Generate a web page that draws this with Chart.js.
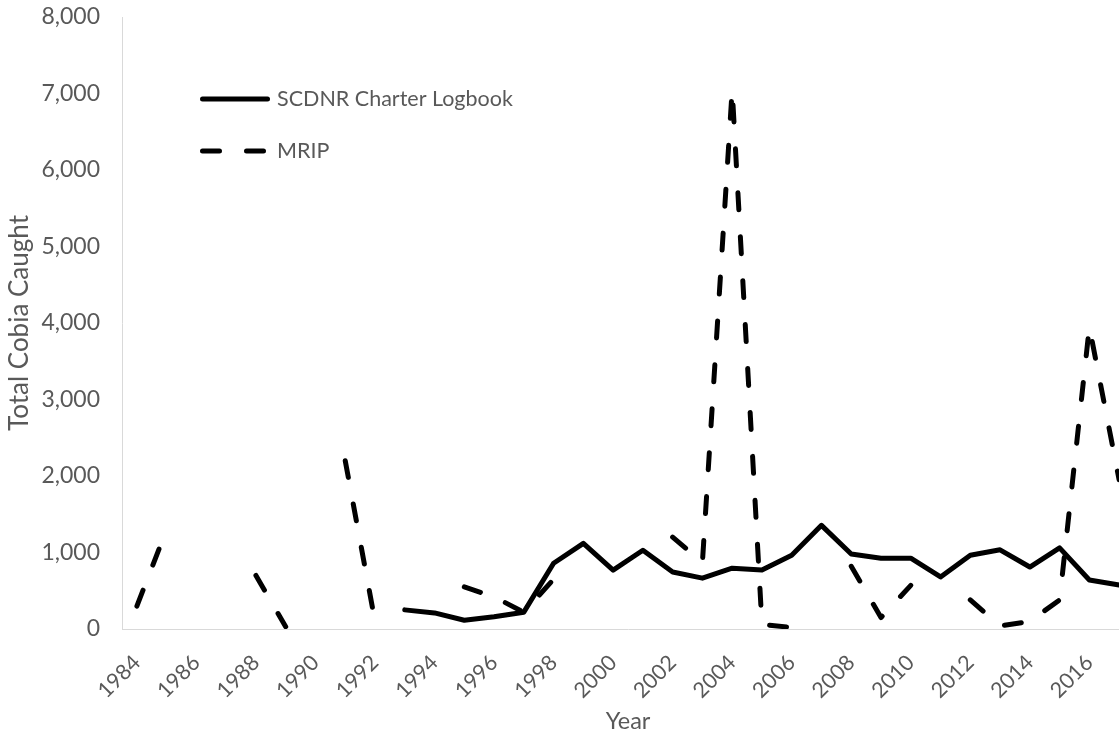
<!DOCTYPE html>
<html>
<head>
<meta charset="utf-8">
<script src="https://cdn.jsdelivr.net/npm/chart.js@4/dist/chart.umd.min.js"></script>
<style>
  html, body { margin: 0; padding: 0; background: #ffffff; overflow: hidden; }
  body { width: 1119px; height: 740px; }
  #c { display: block; }
</style>
</head>
<body>
<canvas id="c" width="1140" height="740"></canvas>
<script>
// ---- data ----
const years = ['1984','1985','1986','1987','1988','1989','1990','1991','1992','1993',
  '1994','1995','1996','1997','1998','1999','2000','2001','2002','2003',
  '2004','2005','2006','2007','2008','2009','2010','2011','2012','2013',
  '2014','2015','2016','2017'];

const scdnrLogbook = [null, null, null, null, null, null, null, null, null, 250,
  210, 115, 160, 220, 860, 1120, 770, 1030, 745, 665,
  795, 770, 965, 1355, 980, 925, 925, 680, 965, 1035,
  810, 1060, 640, 575];

const mrip = [300, 1300, null, null, 700, 30, null, 2200, 100, null,
  null, 550, 420, 220, 650, null, null, null, 1200, 870,
  7050, 60, 20, null, 820, 150, 570, null, 380, 40,
  100, 380, 3950, 1950];

const seriesLabels = ['SCDNR Charter Logbook', 'MRIP'];
const yTicks = [0, 1000, 2000, 3000, 4000, 5000, 6000, 7000, 8000];
const xTitle = 'Year';
const yTitle = 'Total Cobia Caught';

// ---- styling ----
const FONT = 'Lato';
const TEXT = '#595959';
const AXIS = '#d9d9d9';
const DASH = [17, 27];

const legendPlugin = {
  id: 'insideLegend',
  afterDraw(chart) {
    const ctx = chart.ctx;
    const rows = [
      { y: 99, ds: chart.data.datasets[0] },
      { y: 151, ds: chart.data.datasets[1] }
    ];
    ctx.save();
    rows.forEach(r => {
      ctx.beginPath();
      ctx.lineWidth = 5;
      ctx.lineCap = 'round';
      ctx.strokeStyle = r.ds.borderColor;
      ctx.setLineDash(r.ds.borderDash || []);
      ctx.moveTo(202.5, r.y);
      ctx.lineTo(267.5, r.y);
      ctx.stroke();
      ctx.setLineDash([]);
      ctx.fillStyle = TEXT;
      ctx.font = '21.5px ' + FONT;
      ctx.textAlign = 'left';
      ctx.textBaseline = 'middle';
      ctx.fillText(r.ds.label, 277, r.y);
    });
    ctx.restore();
  }
};

new Chart(document.getElementById('c'), {
  type: 'line',
  data: {
    labels: years,
    datasets: [
      {
        label: seriesLabels[0],
        data: scdnrLogbook,
        borderColor: '#000000',
        backgroundColor: '#000000',
        borderWidth: 5,
        borderCapStyle: 'round',
        borderJoinStyle: 'round',
        pointRadius: 0,
        pointHoverRadius: 0,
        tension: 0,
        spanGaps: false
      },
      {
        label: seriesLabels[1],
        data: mrip,
        borderColor: '#000000',
        backgroundColor: '#000000',
        borderWidth: 5,
        borderDash: DASH,
        borderCapStyle: 'round',
        borderJoinStyle: 'round',
        pointRadius: 0,
        pointHoverRadius: 0,
        tension: 0,
        spanGaps: false
      }
    ]
  },
  options: {
    responsive: false,
    animation: false,
    devicePixelRatio: 1,
    layout: { padding: { left: 0, right: 6, top: 17, bottom: 0 } },
    plugins: {
      legend: { display: false },
      tooltip: { enabled: false }
    },
    scales: {
      x: {
        type: 'category',
        offset: true,
        grid: { display: false, drawTicks: false },
        border: { display: true, color: AXIS, width: 1 },
        ticks: {
          color: TEXT,
          font: { family: FONT, size: 21.5 },
          autoSkip: false,
          maxRotation: 45,
          minRotation: 45,
          padding: 21,
          callback: function(value, index) {
            const lab = this.getLabelForValue(value);
            return index % 2 === 0 ? lab : '';
          }
        },
        title: {
          display: true,
          text: xTitle,
          color: TEXT,
          font: { family: FONT, size: 23.5 },
          padding: { top: 4, bottom: 4 }
        },
        afterFit(scale) {
          scale.height = 111;
          scale.paddingLeft = 0;
          scale.paddingRight = 0;
        }
      },
      y: {
        type: 'linear',
        min: 0,
        max: 8000,
        afterBuildTicks(scale) { scale.ticks = yTicks.map(v => ({ value: v })); },
        grid: { display: false, drawTicks: false },
        border: { display: true, color: AXIS, width: 1 },
        ticks: {
          color: TEXT,
          font: { family: FONT, size: 23 },
          padding: 22,
          callback: v => v.toLocaleString('en-US')
        },
        title: {
          display: true,
          text: yTitle,
          color: TEXT,
          font: { family: FONT, size: 26 },
          padding: { top: 4, bottom: 4 }
        },
        afterFit(scale) {
          scale.width = 122;
          scale.paddingTop = 0;
          scale.paddingBottom = 0;
        }
      }
    }
  },
  plugins: [legendPlugin]
});
</script>
</body>
</html>
